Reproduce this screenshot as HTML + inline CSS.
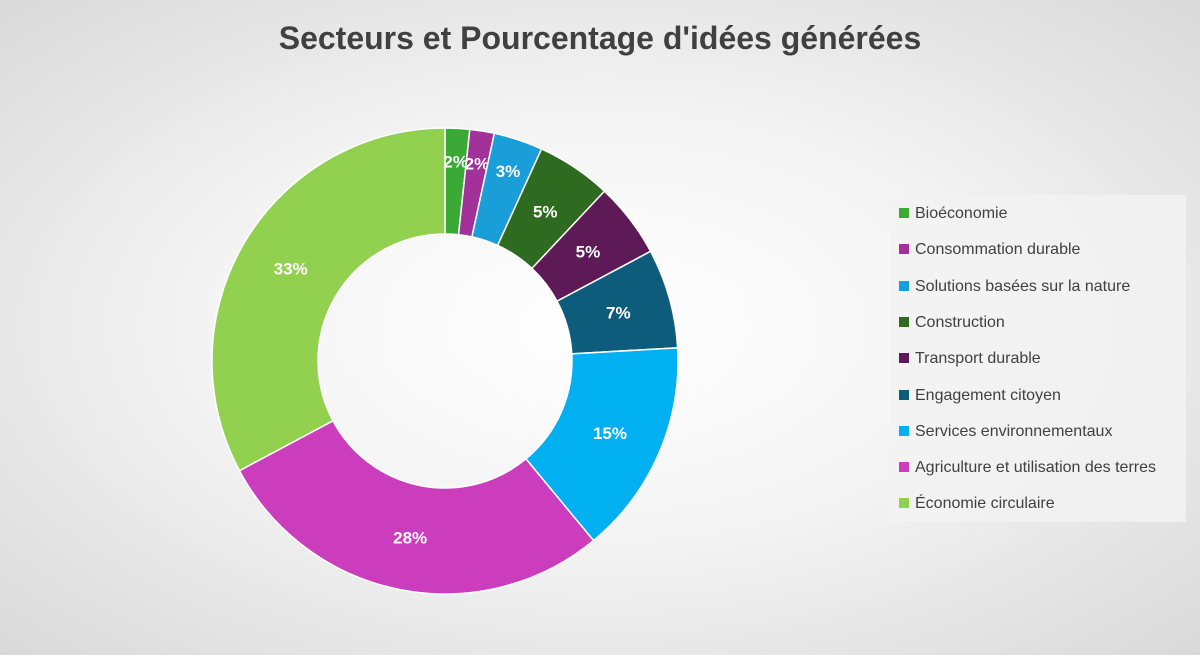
<!DOCTYPE html>
<html><head><meta charset="utf-8"><style>
html,body{margin:0;padding:0}
body{width:1200px;height:655px;overflow:hidden;font-family:"Liberation Sans",sans-serif;
background:radial-gradient(ellipse at 50% 50%,#ffffff 0%,#f4f4f4 45%,#d9d9d9 100%);position:relative}
#title{position:absolute;top:20px;left:0;width:1200px;text-align:center;font-size:32px;font-weight:bold;color:#404040}
#legend{position:absolute;left:890px;top:195px;width:296px;height:327px;background:rgba(242,242,242,0.85)}
.li{position:absolute;left:9px;font-size:16px;color:#404040;height:20px;line-height:20px}
.li i{display:inline-block;width:10px;height:10px;margin-right:6px;vertical-align:0px}
</style></head><body>
<div id="title">Secteurs et Pourcentage d'idées générées</div>
<svg id="chart" width="1200" height="655" style="position:absolute;left:0;top:0"></svg>
<div id="legend"></div>
<script>
const categories=["Bioéconomie","Consommation durable","Solutions basées sur la nature","Construction","Transport durable","Engagement citoyen","Services environnementaux","Agriculture et utilisation des terres","Économie circulaire"];
const values=[1.7,1.7,3.4,5.2,5.2,6.9,14.9,28.2,32.8];
const labels=["2%","2%","3%","5%","5%","7%","15%","28%","33%"];
const colors=["#3aa935","#a23199","#1a9ed8","#2e6a1f","#5e1a57","#0e5c7c","#00b0f0","#cb3dbd","#92d050"];
const cx=445,cy=361,R=233,r=127;
const svg=document.getElementById('chart');const NS="http://www.w3.org/2000/svg";
const total=values.reduce((a,b)=>a+b,0);
function pt(a,rad){return [cx+rad*Math.sin(a),cy-rad*Math.cos(a)];}
let acc=0;
values.forEach((v,i)=>{
 const a0=acc/total*2*Math.PI;acc+=v;const a1=acc/total*2*Math.PI;
 const lg=(a1-a0)>Math.PI?1:0;
 const [x0,y0]=pt(a0,R),[x1,y1]=pt(a1,R),[x2,y2]=pt(a1,r),[x3,y3]=pt(a0,r);
 const p=document.createElementNS(NS,'path');
 p.setAttribute('d',`M${x0},${y0}A${R},${R} 0 ${lg} 1 ${x1},${y1}L${x2},${y2}A${r},${r} 0 ${lg} 0 ${x3},${y3}Z`);
 p.setAttribute('fill',colors[i]);p.setAttribute('stroke','#fff');p.setAttribute('stroke-width','1.5');
 
 
 svg.appendChild(p);
 const am=(a0+a1)/2;const [lx,ly]=pt(am,(R+r)/2+(v<4?20:0));
 const t=document.createElementNS(NS,'text');
 t.setAttribute('x',lx);t.setAttribute('y',ly+6);t.setAttribute('text-anchor','middle');
 t.setAttribute('font-size','17');t.setAttribute('font-weight','bold');t.setAttribute('fill','#fff');
 t.setAttribute('font-family','Liberation Sans, sans-serif');
 t.textContent=labels[i];
 
 
 svg.appendChild(t);
});
const lg=document.getElementById('legend');
categories.forEach((c,i)=>{
 const d=document.createElement('div');d.className='li';d.style.top=(9+i*36.3)+'px';
 d.innerHTML='<i style="background:'+colors[i]+'"></i>'+c;
 
 
 lg.appendChild(d);
});
</script>
</body></html>
